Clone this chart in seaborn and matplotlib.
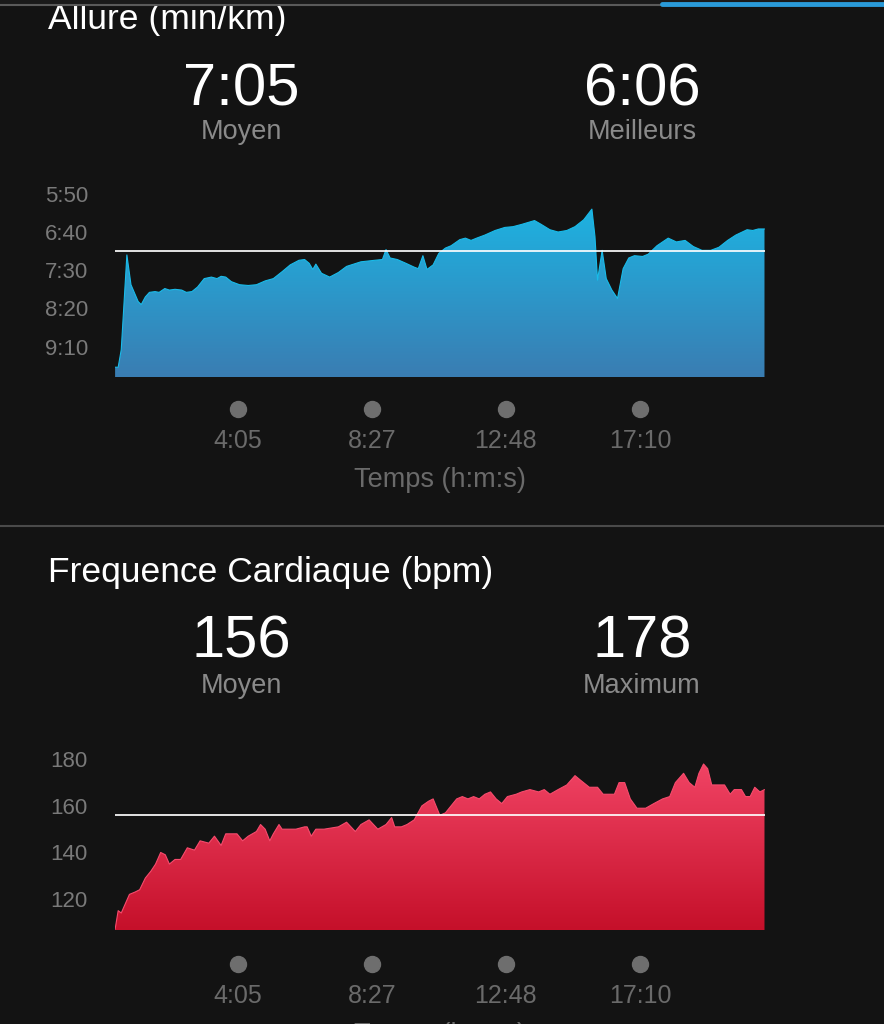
import numpy as np
import pandas as pd
import matplotlib
matplotlib.use("Agg")
import matplotlib.pyplot as plt
import matplotlib.transforms as mtransforms
from matplotlib.colors import LinearSegmentedColormap
from matplotlib.patches import Polygon, Rectangle
from matplotlib.lines import Line2D
import seaborn as sns

# ---------------- data ----------------
# Pace (seconds per km) over elapsed time (seconds)
pace_time = [5, 11, 17, 28, 36, 50, 56, 64, 72, 83, 91, 102, 111, 122, 135, 144, 155, 166,
             179, 193, 204, 212, 221, 232, 248, 265, 281, 298, 314, 331, 347, 364, 375, 384,
             391, 397, 408, 424, 441, 457, 485, 512, 527, 534, 542, 556, 573, 589, 597, 606,
             614, 626, 637, 650, 661, 678, 689, 700, 711, 727, 747, 766, 782, 799, 824, 837,
             854, 870, 887, 903, 920, 936, 942, 947, 956, 964, 975, 986, 997, 1008, 1019,
             1035, 1046, 1063, 1085, 1101, 1118, 1134, 1151, 1168, 1184, 1201, 1217, 1239,
             1250, 1261, 1273]
pace_sec = [577, 577, 554, 430, 469, 491, 495, 485, 479, 478, 479, 474, 476, 475, 476, 479,
            478, 472, 461, 459, 461, 458, 459, 465, 469, 470, 469, 464, 461, 452, 443, 437,
            436, 441, 449, 442, 454, 459, 453, 445, 439, 437, 436, 423, 434, 436, 441, 446,
            448, 431, 449, 443, 428, 421, 418, 410, 408, 411, 408, 404, 398, 394, 393, 390,
            385, 390, 397, 400, 398, 393, 384, 370, 406, 463, 424, 461, 476, 487, 448, 434,
            431, 432, 429, 418, 408, 413, 411, 419, 424, 424, 420, 411, 404, 397, 398, 396,
            396]

# Heart rate (bpm) over elapsed time (seconds)
hr_time = [5, 11, 17, 25, 33, 44, 53, 64, 75, 84, 94, 103, 111, 122, 133, 146, 160, 171,
           188, 199, 212, 221, 232, 243, 254, 265, 281, 289, 298, 307, 314, 325, 331, 342,
           358, 375, 380, 388, 397, 413, 441, 457, 474, 485, 501, 518, 534, 545, 551, 564,
           575, 589, 604, 617, 626, 639, 650, 661, 672, 683, 694, 705, 716, 727, 738, 749,
           760, 771, 788, 799, 815, 832, 843, 854, 870, 887, 903, 914, 931, 947, 958, 980,
           989, 1000, 1011, 1024, 1041, 1057, 1074, 1088, 1099, 1115, 1126, 1137, 1145,
           1154, 1162, 1170, 1184, 1195, 1206, 1214, 1228, 1236, 1245, 1254, 1264, 1273]
hr_bpm = [107, 115, 114, 118, 122, 123, 124, 129, 132, 135, 140, 139, 135, 137, 137, 142,
          141, 145, 144, 147, 143, 148, 148, 148, 145, 147, 149, 152, 150, 145, 148, 152,
          150, 150, 150, 151, 151, 147, 150, 150, 151, 153, 149, 152, 154, 150, 152, 155,
          151, 151, 152, 154, 160, 162, 163, 156, 157, 160, 163, 164, 163, 164, 163, 165,
          166, 163, 161, 164, 165, 166, 167, 166, 167, 165, 167, 169, 173, 171, 168, 168,
          165, 165, 170, 170, 163, 159, 159, 161, 163, 164, 170, 174, 170, 168, 174, 178,
          176, 169, 169, 169, 165, 167, 167, 164, 164, 168, 166, 167]

time_ticks = [245, 507, 768, 1030]
time_tick_labels = ["4:05", "8:27", "12:48", "17:10"]
pace_ticks = [350, 400, 450, 500, 550]
pace_tick_labels = ["5:50", "6:40", "7:30", "8:20", "9:10"]
hr_ticks = [120, 140, 160, 180]
hr_tick_labels = ["120", "140", "160", "180"]

pace_avg = 425
pace_summary = ["7:05", "6:06"]
pace_summary_labels = ["Moyen", "Meilleurs"]
hr_avg = 156
hr_summary = ["156", "178"]
hr_summary_labels = ["Moyen", "Maximum"]

# ---------------- style ----------------
BG = "#131313"
GREY = "#7a7a7a"
sns.set_theme(style="dark")
plt.rcParams['font.family'] = ['Liberation Sans', 'DejaVu Sans']

W, H = 884, 1024
fig = plt.figure(figsize=(W / 100, H / 100), dpi=100, facecolor=BG)


def fx(x):
    return x / W


def fy(y):
    return 1 - y / H


XLIM = (4.8, 1274)


def panel(top_px, bottom_px, t, v, ylim, yticks, ylabels, avg, ctop, cbot):
    ax = fig.add_axes([fx(115), fy(bottom_px), 650 / W, (bottom_px - top_px) / H])
    ax.set_facecolor(BG)
    df = pd.DataFrame({"t": t, "v": v})
    base = ylim[0]
    verts = [(t[0], base)] + list(zip(t, v)) + [(t[-1], base)]
    patch = Polygon(verts, closed=True, facecolor="none", edgecolor="none")
    ax.add_patch(patch)
    grad = np.linspace(0, 1, 256).reshape(-1, 1)
    cmap = LinearSegmentedColormap.from_list("g", [ctop, cbot])
    im = ax.imshow(grad, aspect="auto", cmap=cmap, origin="upper",
                   extent=[XLIM[0], XLIM[1], ylim[0], ylim[1]], interpolation="bilinear")
    im.set_clip_path(patch)
    sns.lineplot(data=df, x="t", y="v", ax=ax, color=ctop, linewidth=0.8)
    ax.axhline(avg, color="white", lw=1.3, alpha=0.95)
    ax.set_xlim(*XLIM)
    ax.set_ylim(*ylim)
    ax.set_xlabel("")
    ax.set_ylabel("")
    ax.set_xticks([])
    ax.set_yticks(yticks)
    ax.set_yticklabels(ylabels)
    ax.tick_params(axis="y", length=0, pad=19.5, labelsize=16, labelcolor=GREY)
    ax.grid(False)
    for s in ax.spines.values():
        s.set_visible(False)
    return ax


def time_axis(ax, dot_y, label_y, title_y):
    tr = mtransforms.blended_transform_factory(ax.transData, fig.transFigure)
    ax.plot(time_ticks, [fy(dot_y)] * len(time_ticks), "o", color="#6e6e6e",
            markersize=11.5, transform=tr, clip_on=False)
    for tt, lab in zip(time_ticks, time_tick_labels):
        ax.text(tt, fy(label_y), lab, transform=tr, ha="center", va="baseline",
                fontsize=18, color="#6a6a6a")
    fig.text(fx(440), fy(title_y), "Temps (h:m:s)", ha="center", va="baseline",
             fontsize=19.5, color="#6a6a6a")


def header(title, title_y, vals, labs, val_y, lab_y):
    fig.text(fx(48), fy(title_y), title, ha="left", va="baseline", fontsize=25.5, color="white")
    for cx, val, lab in zip([241, 642], vals, labs):
        fig.text(fx(cx), fy(val_y), val, ha="center", va="baseline", fontsize=43, color="white")
        fig.text(fx(cx), fy(lab_y), lab, ha="center", va="baseline", fontsize=19.5, color="#8a8a8a")


# Pace panel
header("Allure (min/km)", 29, pace_summary, pace_summary_labels, 105, 139)
ax1 = panel(180, 377, pace_time, pace_sec, (589.8, 331.9), pace_ticks, pace_tick_labels,
            pace_avg, "#19bbe9", "#3a7db2")
time_axis(ax1, 409, 448, 487)

# Heart rate panel
header("Frequence Cardiaque (bpm)", 582, hr_summary, hr_summary_labels, 658, 693)
ax2 = panel(740, 930, hr_time, hr_bpm, (106.7, 188.3), hr_ticks, hr_tick_labels,
            hr_avg, "#f74b6d", "#c5102a")
time_axis(ax2, 964, 1003, 1042)

# top decorations: strip of the previous screen hides the top of the title
fig.add_artist(Rectangle((0, fy(6)), 1, 6 / H, transform=fig.transFigure,
                         facecolor="#1a1a1a", edgecolor="none", zorder=10))
fig.add_artist(Line2D([0, fx(662)], [fy(5), fy(5)], color="#5a5a5a", lw=1.5,
                      transform=fig.transFigure, zorder=11))
fig.add_artist(Line2D([fx(662), 1], [fy(3.5), fy(3.5)], color="#2a9ad8", lw=3.5,
                      transform=fig.transFigure, zorder=11))
# separator
fig.add_artist(Line2D([0, 1], [fy(526), fy(526)], color="#4a4a4a", lw=1.5,
                      transform=fig.transFigure))

fig.savefig("out.png", dpi=100, facecolor=BG)
